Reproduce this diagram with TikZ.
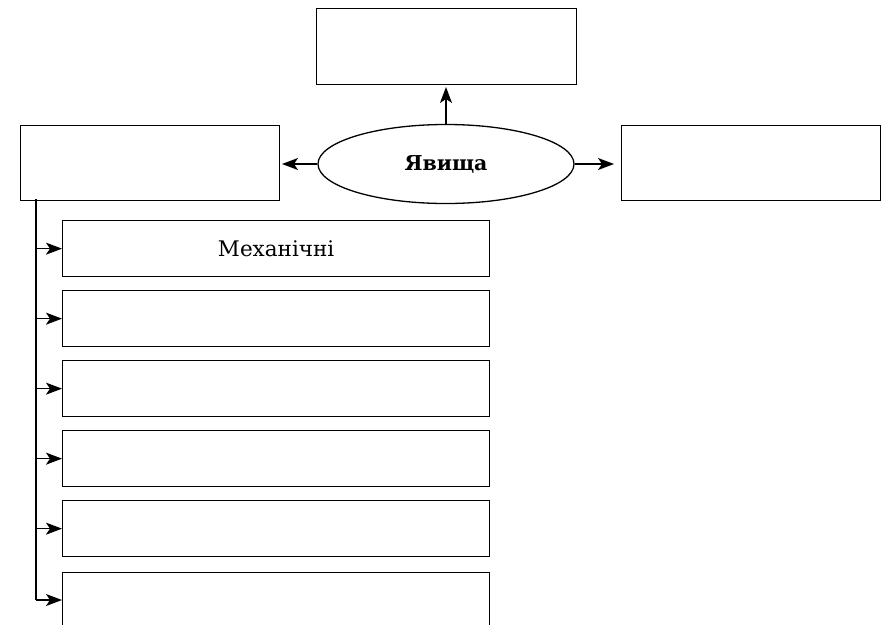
\documentclass[tikz,border=0pt]{standalone}
\usepackage{fontspec}
\setmainfont{DejaVu Serif}
\usetikzlibrary{arrows.meta,shapes.geometric}
\tikzset{
  box/.style={draw, line width=1.3pt, inner sep=0pt, anchor=north west},
  oval/.style={draw, line width=1.3pt, ellipse, inner sep=0pt},
  arr/.style={line width=1.3pt, -{Stealth[length=16pt,width=12pt,inset=4pt]}},
  lbl/.style={font=\fontsize{21.5pt}{24pt}\selectfont},
  blbl/.style={font=\fontsize{20.5pt}{24pt}\selectfont\bfseries},
}
\begin{document}
\begin{tikzpicture}[x=1pt,y=-1pt]
\useasboundingbox (0,0) rectangle (883,624);
\clip (0,0) rectangle (883,624);
% central oval and the three boxes around it
\node[oval, minimum width=256pt, minimum height=79pt, blbl] (main) at (446,164) {Явища};
\node[box, minimum width=260pt, minimum height=76pt] (top) at (316,8) {};
\node[box, minimum width=259pt, minimum height=75pt] (left) at (20,125) {};
\node[box, minimum width=259pt, minimum height=75pt] (right) at (621,125) {};
\coordinate (topin) at (446,87);
\coordinate (leftin) at (282,164);
\coordinate (rightin) at (614,164);
\draw[arr] (main.north) -- (topin);
\draw[arr] (main.west) -- (leftin);
\draw[arr] (main.east) -- (rightin);
% list of kinds
\node[box, minimum width=427pt, minimum height=56pt] (k1) at (62,220) {};
\node[lbl] at (k1.center) {Механічні};
\node[box, minimum width=427pt, minimum height=56pt] (k2) at (62,290) {};
\node[box, minimum width=427pt, minimum height=56pt] (k3) at (62,360) {};
\node[box, minimum width=427pt, minimum height=56pt] (k4) at (62,430) {};
\node[box, minimum width=427pt, minimum height=56pt] (k5) at (62,500) {};
\node[box, minimum width=427pt, minimum height=56pt] (k6) at (62,572) {};
% bus line from the left box
\coordinate (bustop) at (36,199);
\coordinate (busend) at (36,600);
\draw[line width=1.3pt] (bustop) -- (busend);
\foreach \k in {k1,k2,k3,k4,k5} {
  \draw[arr] (\k.west -| bustop) -- (\k.west);
}
\draw[arr] (busend) -- (busend -| k6.west);
\end{tikzpicture}
\end{document}
